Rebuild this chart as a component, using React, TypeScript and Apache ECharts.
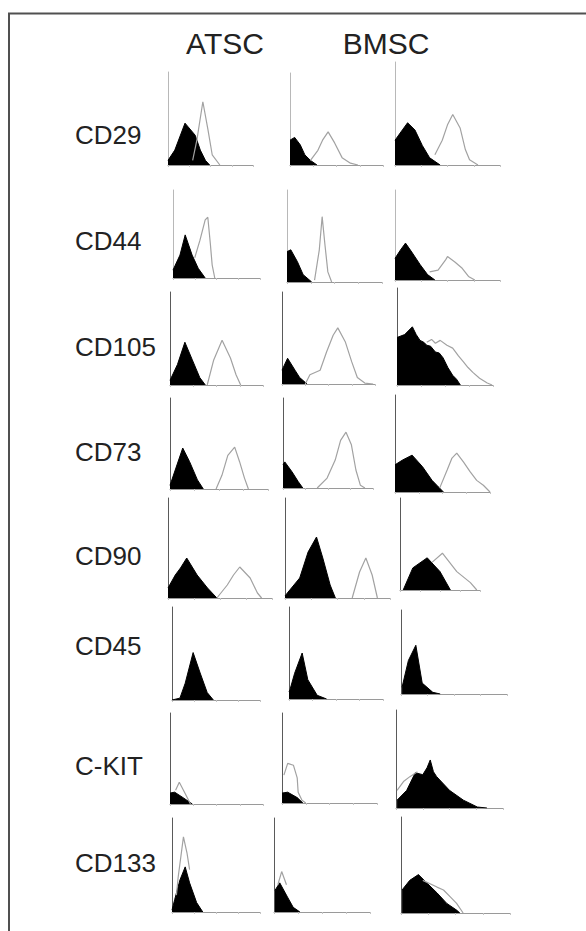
import React, { useEffect, useRef } from 'react';
import * as echarts from 'echarts';

// Column headers and row markers
const columnTitles = ['ATSC', 'BMSC'];
const markers = ['CD29', 'CD44', 'CD105', 'CD73', 'CD90', 'CD45', 'C-KIT', 'CD133'];

// Each histogram: [fluorescence channel (% of axis), cell count (% of axis)]
// Isotype control (black, filled) — one entry per column (ATSC, BMSC, third sample)
const cd29Iso = [
  [[0, 5], [8, 16], [20, 45], [32, 32], [38, 16], [44, 5], [49, 0]],
  [[0, 27], [5, 30], [11, 22], [16, 11], [22, 5], [29, 0]],
  [[0, 24], [7, 34], [12, 41], [19, 34], [26, 19], [33, 7], [43, 0]],
];
const cd44Iso = [
  [[0, 9], [8, 26], [14, 49], [22, 26], [29, 11], [37, 0]],
  [[0, 33], [4, 35], [11, 22], [17, 8], [26, 0]],
  [[0, 24], [5, 33], [10, 41], [16, 31], [24, 17], [31, 6], [38, 0]],
];
const cd105Iso = [
  [[0, 5], [8, 22], [16, 46], [24, 27], [32, 8], [38, 0]],
  [[0, 15], [6, 28], [14, 15], [19, 7], [27, 0]],
  [[0, 49], [8, 52], [16, 60], [20, 52], [24, 46], [28, 44], [31, 41], [35, 40], [40, 34], [44, 33], [48, 28], [53, 18], [58, 10], [62, 6], [66, 0]],
];
const cd73Iso = [
  [[0, 4], [6, 23], [13, 45], [20, 30], [28, 10], [34, 0]],
  [[0, 26], [2, 29], [10, 18], [17, 7], [22, 0]],
  [[0, 28], [8, 33], [18, 38], [29, 26], [39, 12], [44, 7], [51, 0]],
];
const cd90Iso = [
  [[0, 10], [7, 23], [12, 30], [18, 40], [28, 23], [38, 10], [47, 0]],
  [[0, 2], [3, 6], [14, 20], [22, 46], [30, 61], [36, 40], [43, 13], [48, 0]],
  [[4, 0], [16, 24], [34, 35], [50, 20], [63, 0]],
];
const cd45Iso = [
  [[0, 0], [9, 2], [15, 18], [24, 51], [32, 29], [40, 8], [47, 0]],
  [[0, 8], [1, 10], [6, 28], [14, 50], [20, 21], [30, 4], [40, 0]],
  [[1, 8], [7, 40], [14, 58], [20, 13], [30, 2], [37, 0]],
];
const ckitIso = [
  [[0, 12], [5, 13], [14, 7], [24, 0]],
  [[0, 11], [6, 12], [16, 6], [22, 0]],
  [[1, 8], [10, 18], [18, 36], [25, 34], [29, 41], [32, 49], [35, 37], [38, 32], [50, 18], [63, 8], [76, 1], [85, 0]],
];
const cd133Iso = [
  [[0, 2], [3, 13], [9, 34], [15, 48], [20, 31], [28, 10], [35, 0]],
  [[1, 23], [6, 31], [14, 16], [20, 5], [27, 0]],
  [[1, 24], [8, 34], [16, 40], [24, 31], [33, 21], [42, 10], [51, 3], [54, 0]],
];

// Marker staining (grey outline)
const cd29Pos = [
  [[29, 5], [34, 27], [41, 68], [47, 38], [52, 11], [61, 0]],
  [[22, 5], [30, 16], [35, 27], [41, 36], [48, 24], [56, 8], [65, 2], [73, 0]],
  [[38, 10], [45, 24], [50, 39], [55, 49], [62, 36], [67, 15], [71, 5], [79, 0]],
];
const cd44Pos = [
  [[25, 23], [31, 43], [37, 66], [40, 69], [43, 38], [45, 15], [48, 0]],
  [[29, 2], [34, 35], [37, 71], [40, 40], [43, 11], [47, 0]],
  [[33, 9], [41, 11], [48, 22], [50, 26], [57, 20], [64, 13], [70, 4], [76, 0]],
];
const cd105Pos = [
  [[40, 0], [47, 27], [56, 48], [65, 29], [71, 11], [76, 0]],
  [[25, 0], [30, 10], [41, 15], [48, 35], [55, 53], [60, 61], [68, 46], [75, 24], [81, 7], [89, 1], [98, 0]],
  [[31, 44], [36, 47], [40, 43], [45, 46], [52, 41], [58, 38], [64, 30], [69, 24], [74, 18], [79, 13], [86, 7], [94, 2], [99, 0]],
];
const cd73Pos = [
  [[47, 0], [53, 15], [59, 37], [66, 46], [71, 30], [76, 12], [80, 0]],
  [[38, 0], [49, 11], [58, 31], [64, 53], [70, 62], [76, 48], [81, 20], [86, 3], [91, 0]],
  [[47, 4], [55, 23], [60, 35], [65, 40], [72, 31], [79, 21], [86, 12], [93, 7], [100, 0]],
];
const cd90Pos = [
  [[47, 0], [57, 13], [63, 23], [69, 31], [79, 20], [86, 5], [90, 0]],
  [[64, 0], [71, 26], [77, 40], [83, 23], [88, 0]],
  [[40, 30], [53, 40], [71, 20], [88, 8], [96, 0]],
];
const cd45Pos = [[], [], []];
const ckitPos = [
  [[6, 15], [10, 24], [16, 12], [22, 0]],
  [[2, 31], [6, 44], [12, 42], [16, 28], [17, 12], [21, 3], [25, 0]],
  [[1, 18], [7, 27], [13, 32], [20, 37]],
];
const cd133Pos = [
  [[5, 18], [7, 37], [13, 80], [17, 63], [20, 45]],
  [[4, 29], [8, 43], [13, 29]],
  [[20, 34], [33, 27], [39, 24], [45, 17], [51, 10], [57, 0]],
];

const isoRows = [cd29Iso, cd44Iso, cd105Iso, cd73Iso, cd90Iso, cd45Iso, ckitIso, cd133Iso];
const posRows = [cd29Pos, cd44Pos, cd105Pos, cd73Pos, cd90Pos, cd45Pos, ckitPos, cd133Pos];

// Layout (pixels): [left, top, right, bottom] of each panel
const panelBoxes = [
  [[168, 72, 253, 165], [290, 73, 383, 165], [395, 62, 500, 165]],
  [[173, 190, 260, 278], [287, 190, 382, 282], [395, 190, 500, 280]],
  [[170, 292, 263, 385], [282, 292, 375, 384], [397, 288, 493, 385]],
  [[170, 398, 268, 489], [283, 398, 373, 488], [395, 395, 490, 492]],
  [[168, 498, 272, 598], [285, 498, 390, 598], [400, 498, 480, 590]],
  [[172, 607, 260, 700], [289, 607, 383, 699], [401, 610, 507, 694]],
  [[170, 713, 263, 804], [282, 713, 377, 803], [396, 710, 503, 808]],
  [[172, 818, 260, 912], [274, 818, 370, 912], [401, 817, 510, 913]],
];
const labelCenterY = [135, 241, 347, 452, 556, 646, 766, 863];
const titleCenterX = [225, 386];

const FONT = '"Liberation Sans", Arial, Helvetica, sans-serif';

export default function App() {
  const ref = useRef<HTMLDivElement>(null);
  useEffect(() => {
    document.body.style.margin = '0';
    document.body.style.overflow = 'hidden';
    const chart = echarts.init(ref.current!, null, { renderer: 'svg' });
    const grids: any[] = [];
    const xAxes: any[] = [];
    const yAxes: any[] = [];
    const series: any[] = [];
    panelBoxes.forEach((row, r) => {
      row.forEach((box, c) => {
        const i = r * 3 + c;
        grids.push({ left: box[0], top: box[1], width: box[2] - box[0], height: box[3] - box[1] });
        xAxes.push({
          type: 'value', gridIndex: i, min: 0, max: 100, interval: 25,
          axisLine: { show: true, lineStyle: { color: '#9a9a9a', width: 1 } },
          axisTick: { show: true, length: 2, lineStyle: { color: '#c4c4c4' } },
          axisLabel: { show: false }, splitLine: { show: false },
        });
        yAxes.push({
          type: 'value', gridIndex: i, min: 0, max: 100,
          axisLine: { show: true, lineStyle: { color: r < 2 ? '#b8b8b8' : '#5a5a5a', width: 1 } },
          axisTick: { show: false }, axisLabel: { show: false }, splitLine: { show: false },
        });
        series.push({
          type: 'line', xAxisIndex: i, yAxisIndex: i, data: isoRows[r][c],
          showSymbol: false, silent: true, z: 2,
          lineStyle: { color: '#000', width: 1 },
          areaStyle: { color: '#000', opacity: 1 },
        });
        if (posRows[r][c].length) {
          series.push({
            type: 'line', xAxisIndex: i, yAxisIndex: i, data: posRows[r][c],
            showSymbol: false, silent: true, z: 3,
            lineStyle: { color: '#a2a2a2', width: 1.2 },
          });
        }
      });
    });
    const graphics: any[] = [
      {
        type: 'rect', z: 0, silent: true,
        shape: { x: 9, y: 13.5, width: 800, height: 1000 },
        style: { fill: 'none', stroke: '#505050', lineWidth: 2 },
      },
    ];
    columnTitles.forEach((t, k) => {
      graphics.push({
        type: 'text', x: titleCenterX[k], y: 43,
        style: { text: t, fontSize: 30, fontFamily: FONT, fill: '#222', align: 'center', verticalAlign: 'middle' },
      });
    });
    markers.forEach((m, k) => {
      graphics.push({
        type: 'text', x: 75, y: labelCenterY[k],
        style: { text: m, fontSize: 26, fontFamily: FONT, fill: '#222', align: 'left', verticalAlign: 'middle' },
      });
    });
    chart.setOption({
      animation: false,
      backgroundColor: '#ffffff',
      grid: grids,
      xAxis: xAxes,
      yAxis: yAxes,
      series,
      graphic: graphics,
    });
    return () => chart.dispose();
  }, []);
  return <div ref={ref} style={{ width: 586, height: 931 }} />;
}
